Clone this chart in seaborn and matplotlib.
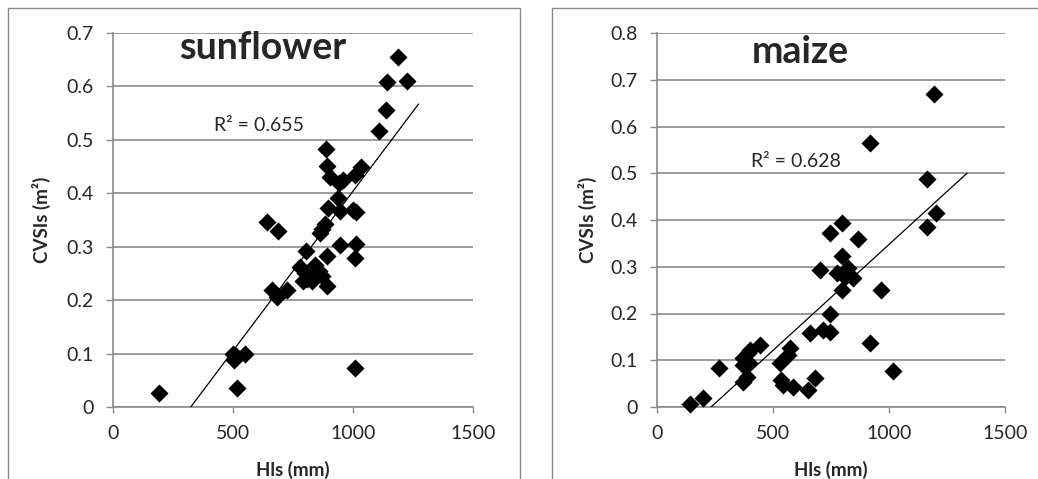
import numpy as np
import pandas as pd
import matplotlib
matplotlib.use("Agg")
import matplotlib.pyplot as plt
import seaborn as sns
from matplotlib.patches import Rectangle

# ----- data -----
sun_hls = [190, 500, 505, 512, 548, 517, 1008,
           642, 688, 661, 683, 725,
           780, 790, 800, 810, 830, 840, 860, 870, 890,
           804, 890, 946, 1012, 1010,
           862, 872, 883, 896, 938, 945, 1000, 1012,
           888, 890, 904, 940, 960, 1008, 1032,
           1110, 1137, 1140, 1189, 1224]
sun_cvsi = [0.027, 0.100, 0.088, 0.095, 0.099, 0.036, 0.073,
            0.347, 0.330, 0.219, 0.206, 0.219,
            0.262, 0.235, 0.250, 0.240, 0.235, 0.265, 0.255, 0.245, 0.227,
            0.292, 0.283, 0.303, 0.305, 0.278,
            0.326, 0.333, 0.343, 0.372, 0.391, 0.366, 0.368, 0.365,
            0.483, 0.451, 0.431, 0.420, 0.425, 0.434, 0.450,
            0.516, 0.555, 0.608, 0.656, 0.610]

maize_hls = [142, 200, 269, 369, 387, 371, 371, 392, 401, 444, 395,
             530, 533, 541, 573, 566, 585, 651, 681,
             659, 716, 745, 745, 703, 745, 796, 796, 774, 796,
             823, 810, 845, 867, 918, 918, 964, 1018,
             1164, 1164, 1203, 1194]
maize_cvsi = [0.006, 0.019, 0.083, 0.054, 0.065, 0.090, 0.105, 0.115, 0.122, 0.133, 0.095,
              0.094, 0.057, 0.048, 0.126, 0.111, 0.043, 0.036, 0.062,
              0.158, 0.165, 0.161, 0.200, 0.292, 0.372, 0.394, 0.323, 0.287, 0.250,
              0.297, 0.279, 0.276, 0.359, 0.565, 0.137, 0.250, 0.078,
              0.488, 0.386, 0.415, 0.670]

# linear trendlines (end points)
sun_trend_x, sun_trend_y = [324, 1273], [0.0, 0.567]
maize_trend_x, maize_trend_y = [233, 1336], [0.0, 0.500]

x_ticks = [0, 500, 1000, 1500]
sun_y_ticks = [0, 0.1, 0.2, 0.3, 0.4, 0.5, 0.6, 0.7]
maize_y_ticks = [0, 0.1, 0.2, 0.3, 0.4, 0.5, 0.6, 0.7, 0.8]

GRAY = "#8a8a8a"

sns.set_style("white")
plt.rcParams["font.family"] = ["Lato", "DejaVu Sans"]

fig = plt.figure(figsize=(10.38, 4.79), dpi=100)

# outer chart frames (partly cut off like the original)
fig.patches.append(Rectangle((8 / 1038, -0.1), 512 / 1038, 1.1 - 8 / 479,
                             transform=fig.transFigure, fill=False,
                             edgecolor=GRAY, linewidth=1.0))
fig.patches.append(Rectangle((552 / 1038, -0.1), 0.6, 1.1 - 8 / 479,
                             transform=fig.transFigure, fill=False,
                             edgecolor=GRAY, linewidth=1.0))

ax_sun = fig.add_axes([113 / 1038, 72 / 479, 360 / 1038, 374 / 479])
ax_maize = fig.add_axes([657 / 1038, 72 / 479, 348 / 1038, 374 / 479])

panels = [
    (ax_sun, sun_hls, sun_cvsi, sun_trend_x, sun_trend_y, sun_y_ticks,
     "sunflower", (625, 0.672), "R² = 0.655", (608, 0.526)),
    (ax_maize, maize_hls, maize_cvsi, maize_trend_x, maize_trend_y, maize_y_ticks,
     "maize", (619, 0.759), "R² = 0.628", (599, 0.526)),
]

for ax, hx, cy, tx, ty, yticks, name, name_xy, r2, r2_xy in panels:
    df = pd.DataFrame({"Hls": hx, "CVSIs": cy})
    sns.scatterplot(data=df, x="Hls", y="CVSIs", marker="D", color="black",
                    s=85, linewidth=0, ax=ax, zorder=3, clip_on=False)
    sns.lineplot(x=tx, y=ty, color="black", linewidth=0.9, ax=ax, zorder=4)

    ax.set_xlim(0, 1500)
    ax.set_ylim(0, yticks[-1])
    ax.set_xticks(x_ticks)
    ax.set_xticklabels([str(v) for v in x_ticks], fontsize=14)
    ax.set_yticks(yticks)
    ax.set_yticklabels([f"{v:g}" for v in yticks], fontsize=14)
    ax.tick_params(axis="x", direction="out", length=4, width=1, color=GRAY, pad=9, bottom=True)
    ax.tick_params(axis="y", direction="out", length=5, width=1, color=GRAY, pad=9, left=True)

    ax.grid(axis="y", color=GRAY, linewidth=1.2)
    ax.grid(axis="x", visible=False)
    ax.set_axisbelow(True)
    for side in ["top", "right"]:
        ax.spines[side].set_visible(False)
    for side in ["left", "bottom"]:
        ax.spines[side].set_color(GRAY)
        ax.spines[side].set_linewidth(1.2)

    ax.set_xlabel("Hls (mm)", fontsize=13.5, fontweight="bold")
    ax.set_ylabel("CVSIs (m²)", fontsize=13.5, fontweight="bold")
    ax.xaxis.set_label_coords(0.5, -0.145)
    ax.yaxis.set_label_coords(-0.172, 0.5)

    ax.text(name_xy[0], name_xy[1], name, fontsize=27, fontweight="bold",
            ha="center", va="center")
    ax.text(r2_xy[0], r2_xy[1], r2, fontsize=14, ha="center", va="center")

fig.savefig("out.png", dpi=100)
